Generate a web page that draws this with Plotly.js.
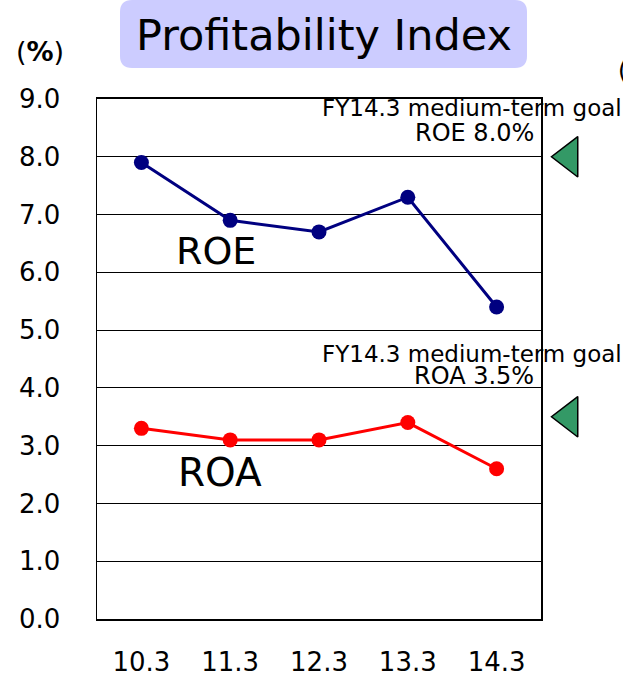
<!DOCTYPE html>
<html><head><meta charset="utf-8">
<script src="https://cdn.plot.ly/plotly-3.0.1.min.js"></script>
<style>html,body{margin:0;padding:0;background:#fff}#chart{width:623px;height:676px}</style>
</head><body><div id="chart"></div>
<script>
const categories = ["10.3", "11.3", "12.3", "13.3", "14.3"];
const roe = [7.9, 6.9, 6.7, 7.3, 5.4];
const roa = [3.3, 3.1, 3.1, 3.4, 2.6];
const goalValues = [8.0, 3.5];
const goalLabels = ["ROE 8.0%", "ROA 3.5%"];
const yTicks = [0, 1, 2, 3, 4, 5, 6, 7, 8, 9];
const yTickText = ["0.0","1.0","2.0","3.0","4.0","5.0","6.0","7.0","8.0","9.0"];

const FONT = "DejaVu Sans, Verdana, sans-serif";
const idx = categories.map((c, i) => i);

// pixel geometry
const W = 623, H = 676;
const L = 97, R = 541, T = 99, B = 619, PR = 600;
const px = v => (v - L) / (PR - L);
const py = v => (B - v) / (B - T);

const traces = [
  {x: idx, y: roe, type: 'scatter', mode: 'lines+markers', name: 'ROE',
   line: {color: '#000080', width: 3}, marker: {color: '#000080', size: 15}, cliponaxis: false},
  {x: idx, y: roa, type: 'scatter', mode: 'lines+markers', name: 'ROA',
   line: {color: '#ff0000', width: 3}, marker: {color: '#ff0000', size: 15}, cliponaxis: false},
  {x: goalValues.map(() => 0.5), y: goalValues, type: 'scatter', mode: 'markers', name: 'goal',
   xaxis: 'x2', yaxis: 'y2',
   marker: {symbol: 'triangle-left', color: '#339966', size: 35, line: {color: '#000', width: 1.5}},
   cliponaxis: false}
];

// rounded title box in paper coords
const bx0 = 120, bx1 = 527, by0 = 0, by1 = 68, rr = 12;
const titlePath = `M ${px(bx0+rr)} ${py(by0)} L ${px(bx1-rr)} ${py(by0)} Q ${px(bx1)} ${py(by0)} ${px(bx1)} ${py(by0+rr)} ` +
  `L ${px(bx1)} ${py(by1-rr)} Q ${px(bx1)} ${py(by1)} ${px(bx1-rr)} ${py(by1)} L ${px(bx0+rr)} ${py(by1)} ` +
  `Q ${px(bx0)} ${py(by1)} ${px(bx0)} ${py(by1-rr)} L ${px(bx0)} ${py(by0+rr)} Q ${px(bx0)} ${py(by0)} ${px(bx0+rr)} ${py(by0)} Z`;

const annFont = {family: FONT, size: 23, color: '#000'};
const annotations = [
  {xref: 'paper', yref: 'paper', x: px(323.5), y: py(35), text: 'Profitability Index', showarrow: false,
   font: {family: FONT, size: 43, color: '#000'}, xanchor: 'center', yanchor: 'middle'},
  {xref: 'paper', yref: 'paper', x: px(40), y: py(51), text: '(<b>%</b>)', showarrow: false,
   font: {family: FONT, size: 27, color: '#000'}, xanchor: 'center', yanchor: 'middle'},
  {xref: 'paper', yref: 'paper', x: px(616), y: py(71), text: '(', showarrow: false,
   font: {family: FONT, size: 24, color: '#000'}, xanchor: 'left', yanchor: 'middle'},
  {xref: 'x', yref: 'y', x: 0.37, y: 6.37, text: 'ROE', showarrow: false,
   font: {family: FONT, size: 38, color: '#000'}, xanchor: 'left', yanchor: 'middle'},
  {xref: 'x', yref: 'y', x: 0.39, y: 2.53, text: 'ROA', showarrow: false,
   font: {family: FONT, size: 39, color: '#000'}, xanchor: 'left', yanchor: 'middle'}
];
const line1Offset = [0.84, 1.08];
const line2Offset = [0.42, 0.70];
goalValues.forEach((g, i) => {
  annotations.push({xref: 'paper', yref: 'y', x: px(320), y: g + line1Offset[i], text: 'FY14.3 medium-term goal',
    showarrow: false, font: annFont, xanchor: 'left', yanchor: 'middle'});
  annotations.push({xref: 'paper', yref: 'y', x: px(536), y: g + line2Offset[i], text: goalLabels[i],
    showarrow: false, font: {family: FONT, size: 24, color: '#000'}, xanchor: 'right', yanchor: 'middle'});
});

const layout = {
  width: W, height: H,
  margin: {l: L, r: W - PR, t: T, b: H - B, pad: 0},
  paper_bgcolor: '#fff', plot_bgcolor: 'rgba(0,0,0,0)',
  showlegend: false,
  font: {family: FONT, color: '#000'},
  xaxis: {domain: [0, px(R)], range: [-0.5, 4.5], tickvals: idx, ticktext: categories, showgrid: false, zeroline: false,
    showline: true, mirror: true, linecolor: '#000', linewidth: 2, ticks: '', ticklabelstandoff: 19,
    tickfont: {family: FONT, size: 26, color: '#000'}, fixedrange: true},
  yaxis: {range: [0, 9], tickvals: yTicks, ticktext: yTickText, showgrid: true, gridcolor: '#000', gridwidth: 1,
    zeroline: false, showline: true, mirror: true, linecolor: '#000', linewidth: 1.5, ticks: '', ticklabelstandoff: 30,
    tickfont: {family: FONT, size: 26, color: '#000'}, fixedrange: true},
  xaxis2: {domain: [px(543), px(595)], range: [0, 1], visible: false, anchor: 'y2', fixedrange: true},
  yaxis2: {domain: [0, 1], range: [0, 9], visible: false, anchor: 'x2', fixedrange: true},
  shapes: [{type: 'path', xref: 'paper', yref: 'paper', path: titlePath, fillcolor: '#ccccff', line: {width: 0}, layer: 'below'}],
  annotations: annotations
};

Plotly.newPlot('chart', traces, layout, {displayModeBar: false, staticPlot: true});
</script></body></html>
